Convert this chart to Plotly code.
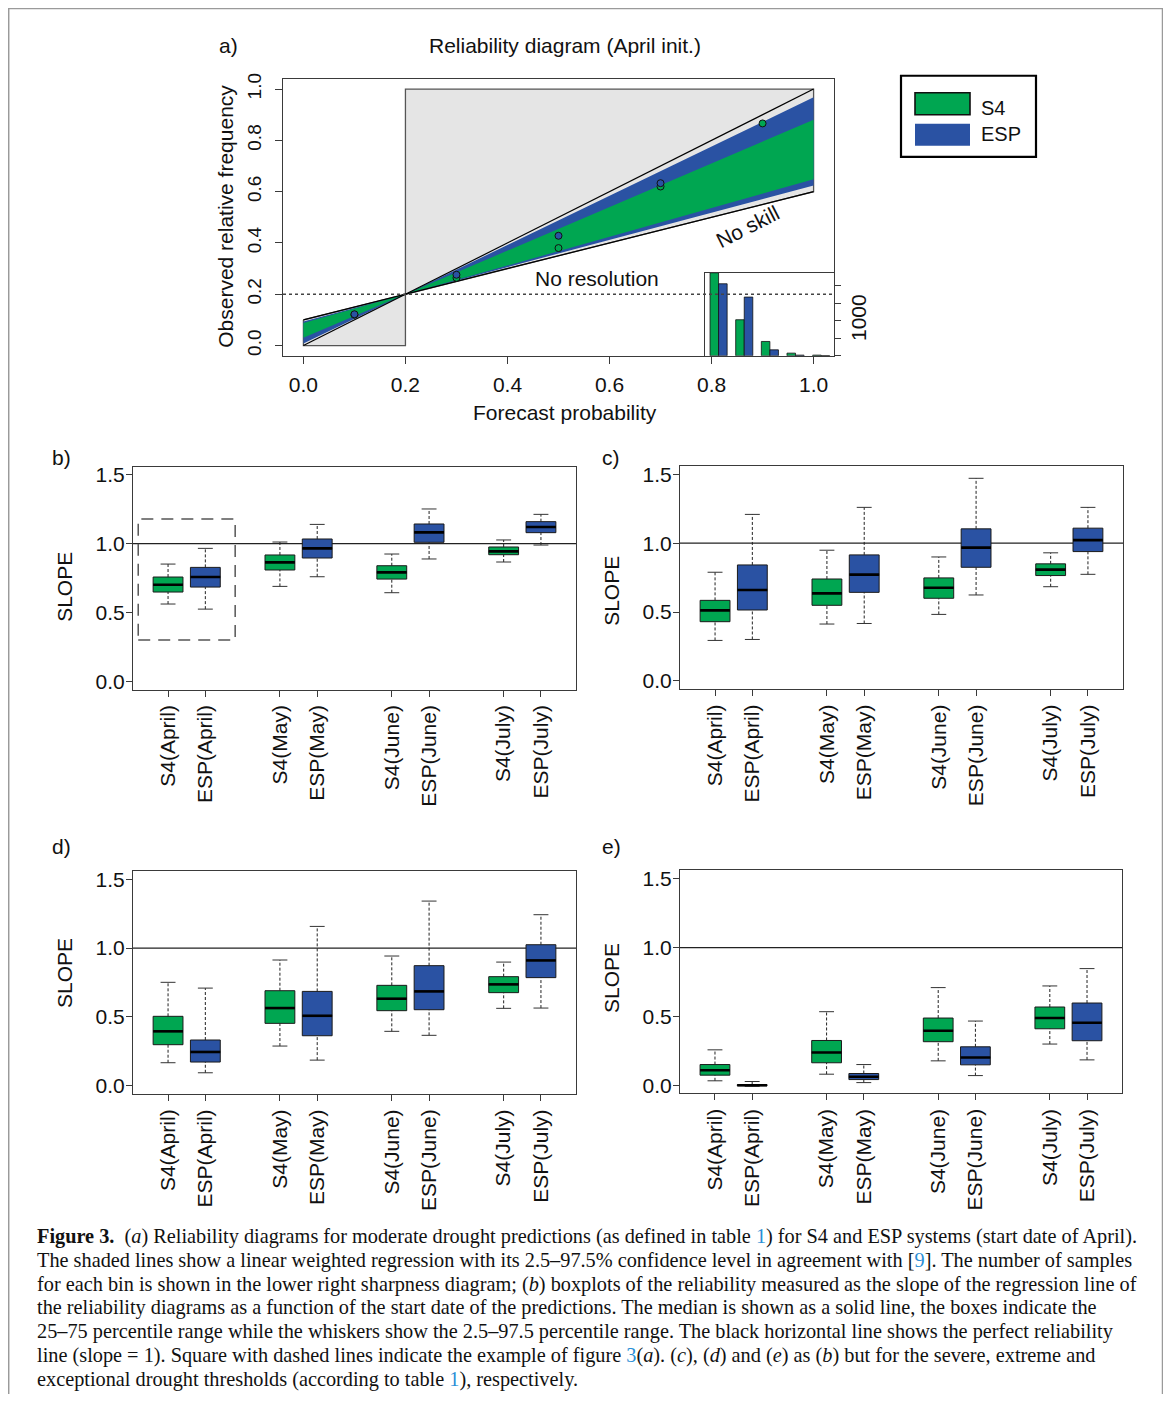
import plotly.graph_objects as go

# The page body has an 8px margin, so the figure starts at (8, 8) of the window.
OFF = 8
W, H = 1171 - 2 * OFF, 1402 - 2 * OFF
def px(x): return (x - OFF) / W
def py(y):
    yy = (y - 6.3) / 0.9933          # small empirical vertical correction
    return 1 - (yy - OFF) / H

GREEN = "#00a651"
BLUE = "#2a52a3"
FONT = "Liberation Sans"
AX = "#3a3a3a"

# ---------------- Panel a: reliability diagram ----------------
climatology = 0.2
bins = [0.1, 0.3, 0.5, 0.7, 0.9]
obs_s4 = [0.120, 0.264, 0.380, 0.620, 0.866]
obs_esp = [0.122, 0.276, 0.428, 0.633, None]
band_s4 = [0.56, 0.85]     # regression slope, 2.5% and 97.5%
band_esp = [0.53, 0.96]
count_s4 = [2370, 1030, 410, 77, 20]
count_esp = [2057, 1677, 171, 20, 5]
prob_ticks = [0.0, 0.2, 0.4, 0.6, 0.8, 1.0]
count_ticks = [0, 500, 1000, 1500, 2000]
count_ticktext = ["", "", "1000", "", ""]

# ---------------- Panels b-e: slope boxplots ----------------
months = ["April", "May", "June", "July"]
slope_ticks = [0.0, 0.5, 1.0, 1.5]
perfect_slope = 1.0
highlight_box = [0.2, 2.8, 0.3, 1.18]   # x0, x1, y0, y1 in panel b

b_s4_lo = [0.562, 0.690, 0.644, 0.867]
b_s4_q1 = [0.649, 0.809, 0.743, 0.920]
b_s4_md = [0.702, 0.864, 0.792, 0.944]
b_s4_q3 = [0.758, 0.918, 0.840, 0.976]
b_s4_hi = [0.852, 1.012, 0.925, 1.027]
b_esp_lo = [0.525, 0.760, 0.889, 0.990]
b_esp_q1 = [0.685, 0.896, 1.010, 1.080]
b_esp_md = [0.758, 0.966, 1.082, 1.121]
b_esp_q3 = [0.828, 1.034, 1.143, 1.160]
b_esp_hi = [0.966, 1.140, 1.252, 1.213]

c_s4_lo = [0.294, 0.413, 0.483, 0.684]
c_s4_q1 = [0.430, 0.549, 0.600, 0.765]
c_s4_md = [0.512, 0.636, 0.677, 0.808]
c_s4_q3 = [0.585, 0.740, 0.748, 0.850]
c_s4_hi = [0.789, 0.949, 0.900, 0.930]
c_esp_lo = [0.301, 0.417, 0.624, 0.774]
c_esp_q1 = [0.515, 0.643, 0.825, 0.939]
c_esp_md = [0.660, 0.772, 0.968, 1.022]
c_esp_q3 = [0.842, 0.915, 1.104, 1.109]
c_esp_hi = [1.209, 1.260, 1.471, 1.260]

d_s4_lo = [0.167, 0.288, 0.395, 0.562]
d_s4_q1 = [0.298, 0.453, 0.545, 0.676]
d_s4_md = [0.395, 0.564, 0.632, 0.736]
d_s4_q3 = [0.504, 0.690, 0.729, 0.792]
d_s4_hi = [0.751, 0.913, 0.942, 0.898]
d_esp_lo = [0.094, 0.186, 0.366, 0.564]
d_esp_q1 = [0.172, 0.363, 0.552, 0.785]
d_esp_md = [0.245, 0.508, 0.685, 0.910]
d_esp_q3 = [0.332, 0.685, 0.872, 1.024]
d_esp_hi = [0.709, 1.157, 1.341, 1.242]

e_s4_lo = [0.032, 0.080, 0.177, 0.299]
e_s4_q1 = [0.073, 0.163, 0.316, 0.410]
e_s4_md = [0.109, 0.238, 0.396, 0.488]
e_s4_q3 = [0.150, 0.325, 0.488, 0.568]
e_s4_hi = [0.257, 0.534, 0.709, 0.721]
e_esp_lo = [-0.008, 0.019, 0.070, 0.184]
e_esp_q1 = [-0.004, 0.041, 0.148, 0.323]
e_esp_md = [0.000, 0.061, 0.201, 0.454]
e_esp_q3 = [0.004, 0.085, 0.279, 0.597]
e_esp_hi = [0.027, 0.150, 0.466, 0.847]

fig = go.Figure()

# ---------- panel a traces ----------
def no_skill(x):
    return (x + climatology) / 2

def reg(s, x):
    return climatology + s * (x - climatology)

gray = "#e5e5e5"
edge = "#555555"
fig.add_trace(go.Scatter(
    x=[0, 0, climatology, climatology, 0],
    y=[no_skill(0), 0, 0, climatology, no_skill(0)],
    fill="toself", fillcolor=gray, mode="lines", line=dict(color=edge, width=1.3),
    hoverinfo="skip"))
fig.add_trace(go.Scatter(
    x=[climatology, climatology, 1, 1, climatology],
    y=[climatology, 1, 1, no_skill(1), climatology],
    fill="toself", fillcolor=gray, mode="lines", line=dict(color=edge, width=1.3),
    hoverinfo="skip"))

for band, col in [(band_esp, BLUE), (band_s4, GREEN)]:
    lo, hi = band
    fig.add_trace(go.Scatter(
        x=[0, 1, 1, 0, 0],
        y=[reg(hi, 0), reg(hi, 1), reg(lo, 1), reg(lo, 0), reg(hi, 0)],
        fill="toself", fillcolor=col, mode="lines", line=dict(width=0),
        hoverinfo="skip"))

fig.add_trace(go.Scatter(x=[0, 1], y=[0, 1], mode="lines",
                         line=dict(color="black", width=1.2), hoverinfo="skip"))
fig.add_trace(go.Scatter(x=[0, 1], y=[no_skill(0), no_skill(1)], mode="lines",
                         line=dict(color="black", width=1.2), hoverinfo="skip"))

fig.add_trace(go.Scatter(x=bins, y=obs_s4, mode="markers",
                         marker=dict(size=7, color=GREEN, line=dict(color="#111", width=1))))
fig.add_trace(go.Scatter(x=bins, y=obs_esp, mode="markers",
                         marker=dict(size=7, color=BLUE, line=dict(color="#111", width=1))))

# sharpness inset
fig.add_trace(go.Bar(x=bins, y=count_s4, marker=dict(color=GREEN, line=dict(color="#111", width=0.8)),
                     xaxis="x2", yaxis="y2"))
fig.add_trace(go.Bar(x=bins, y=count_esp, marker=dict(color=BLUE, line=dict(color="#111", width=0.8)),
                     xaxis="x2", yaxis="y2"))

# ---------- boxplot panels ----------
s4_pos = [3 * i + 1 for i in range(len(months))]
esp_pos = [3 * i + 2 for i in range(len(months))]
tick_pos, tick_txt = [], []
for i, m in enumerate(months):
    tick_pos += [s4_pos[i], esp_pos[i]]
    tick_txt += [f"S4({m})", f"ESP({m})"]

def add_boxes(xa, ya, pos, lo, q1, md, q3, hi, color):
    wx, wy, cx, cy, mx, my = [], [], [], [], [], []
    for p, a, b, m, c, d in zip(pos, lo, q1, md, q3, hi):
        wx += [p, p, None, p, p, None]
        wy += [c, d, None, a, b, None]
        cx += [p - 0.2, p + 0.2, None, p - 0.2, p + 0.2, None]
        cy += [d, d, None, a, a, None]
        mx += [p - 0.4, p + 0.4, None]
        my += [m, m, None]
    fig.add_trace(go.Scatter(x=wx, y=wy, mode="lines", xaxis=xa, yaxis=ya,
                             line=dict(color="#222", width=1, dash="3px,2px"), hoverinfo="skip"))
    fig.add_trace(go.Scatter(x=cx, y=cy, mode="lines", xaxis=xa, yaxis=ya,
                             line=dict(color="#333", width=1), hoverinfo="skip"))
    fig.add_trace(go.Box(x=pos, q1=q1, median=md, q3=q3, lowerfence=q1, upperfence=q3,
                         width=0.8, whiskerwidth=0, fillcolor=color, boxpoints=False,
                         line=dict(color="#1a1a1a", width=1), xaxis=xa, yaxis=ya))
    fig.add_trace(go.Scatter(x=mx, y=my, mode="lines", xaxis=xa, yaxis=ya,
                             line=dict(color="black", width=2.6), hoverinfo="skip"))

panels = [
    ("x3", "y3", (b_s4_lo, b_s4_q1, b_s4_md, b_s4_q3, b_s4_hi), (b_esp_lo, b_esp_q1, b_esp_md, b_esp_q3, b_esp_hi)),
    ("x4", "y4", (c_s4_lo, c_s4_q1, c_s4_md, c_s4_q3, c_s4_hi), (c_esp_lo, c_esp_q1, c_esp_md, c_esp_q3, c_esp_hi)),
    ("x5", "y5", (d_s4_lo, d_s4_q1, d_s4_md, d_s4_q3, d_s4_hi), (d_esp_lo, d_esp_q1, d_esp_md, d_esp_q3, d_esp_hi)),
    ("x6", "y6", (e_s4_lo, e_s4_q1, e_s4_md, e_s4_q3, e_s4_hi), (e_esp_lo, e_esp_q1, e_esp_md, e_esp_q3, e_esp_hi)),
]
for xa, ya, s4, esp in panels:
    add_boxes(xa, ya, s4_pos, *s4, GREEN)
    add_boxes(xa, ya, esp_pos, *esp, BLUE)

# ---------- layout ----------
base_ax = dict(showgrid=False, zeroline=False, showline=True, mirror=True, linecolor=AX,
               linewidth=1, ticks="outside", tickcolor=AX, ticklen=7, tickwidth=1,
               tickfont=dict(family=FONT, size=21, color="#111"))

layout = dict(
    width=W, height=H, autosize=False, margin=dict(l=0, r=0, t=0, b=0),
    paper_bgcolor="white", plot_bgcolor="white", showlegend=False,
    barmode="group", bargap=1/3, bargroupgap=0, boxmode="overlay",
    font=dict(family=FONT, color="#111"),
)
layout["xaxis"] = dict(base_ax, domain=[px(283), px(834)], range=[-0.04, 1.04],
                       tickvals=prob_ticks, ticktext=[f"{v:.1f}" for v in prob_ticks],
                       anchor="y", ticklabelstandoff=3)
layout["yaxis"] = dict(base_ax, domain=[py(356), py(79)], range=[-0.04, 1.04],
                       tickvals=prob_ticks, ticktext=[f"{v:.1f}" for v in prob_ticks],
                       tickfont=dict(family=FONT, size=19, color="#111"),
                       tickangle=-90, anchor="x", ticklabelstandoff=6)
layout["xaxis2"] = dict(showgrid=False, zeroline=False, showline=True, mirror=True, linecolor=AX,
                        domain=[px(705), px(834)], range=[-0.006, 1.0], showticklabels=False,
                        ticks="", anchor="y2")
layout["yaxis2"] = dict(base_ax, domain=[py(356), py(273)], range=[0, 2370], side="right",
                        tickvals=count_ticks, ticktext=count_ticktext, tickangle=-90,
                        ticklen=6, anchor="x2")

box_dom = {
    "3": ([133, 576], [466.7, 689.8]),
    "4": ([680, 1123], [466.2, 689.3]),
    "5": ([133, 576], [871, 1094]),
    "6": ([680, 1122], [870.5, 1093.5]),
}
for k, (xd, yd) in box_dom.items():
    layout["xaxis" + k] = dict(base_ax, domain=[px(xd[0]), px(xd[1])], range=[0.06, 11.94],
                               tickvals=tick_pos, ticktext=tick_txt, tickangle=-90,
                               ticklen=6, anchor="y" + k)
    layout["yaxis" + k] = dict(base_ax, domain=[py(yd[1]), py(yd[0])], range=[-0.06, 1.56],
                               tickvals=slope_ticks, ticktext=[f"{v:.1f}" for v in slope_ticks],
                               ticklen=6, anchor="x" + k, ticklabelstandoff=-3)
fig.update_layout(**layout)

shapes = []
shapes.append(dict(type="line", xref="x domain", yref="y", x0=0, x1=1, y0=climatology, y1=climatology,
                   line=dict(color="#444", width=1.4, dash="dot")))
for k in ["3", "4", "5", "6"]:
    shapes.append(dict(type="line", xref=f"x{k} domain", yref=f"y{k}", x0=0, x1=1,
                       y0=perfect_slope, y1=perfect_slope, line=dict(color="#222", width=1.2),
                       layer="below"))
shapes.append(dict(type="rect", xref="x3", yref="y3", x0=highlight_box[0], x1=highlight_box[1],
                   y0=highlight_box[2], y1=highlight_box[3],
                   line=dict(color="#555", width=1.5, dash="12px,8px")))
shapes.append(dict(type="rect", xref="paper", yref="paper", x0=px(901), x1=px(1036), y0=py(157), y1=py(76),
                   line=dict(color="black", width=2.2), fillcolor="white"))
shapes.append(dict(type="rect", xref="paper", yref="paper", x0=px(915), x1=px(970), y0=py(115), y1=py(93),
                   line=dict(color="#111", width=1.6), fillcolor=GREEN))
shapes.append(dict(type="rect", xref="paper", yref="paper", x0=px(915), x1=px(970), y0=py(146), y1=py(124),
                   line=dict(width=0), fillcolor=BLUE))
shapes.append(dict(type="rect", xref="paper", yref="paper", x0=px(8.7), x1=px(1162.5), y0=py(1412), y1=py(8.7),
                   line=dict(color="#9a9a9a", width=1.5)))
fig.update_layout(shapes=shapes)

ann = []
def T(text, x, y, size=21, angle=0, xanchor="center", family=FONT, xref="paper", yref="paper"):
    d = dict(text=text, x=x, y=y, xref=xref, yref=yref, showarrow=False, textangle=angle,
             xanchor=xanchor, yanchor="middle", font=dict(family=family, size=size, color="#111"))
    if xref == "paper":
        d["x"] = px(x)
    if yref == "paper":
        d["y"] = py(y)
    ann.append(d)

T("a)", 228, 46)
T("Reliability diagram (April init.)", 565, 46)
T("Observed relative frequency", 226, 217, angle=-90)
T("Forecast probability", 565, 413)
T("No resolution", 0.575, 0.263, xref="x", yref="y")
T("No skill", 0.871, 0.463, angle=-27, xref="x", yref="y")
T("S4", 979, 108, size=20, xanchor="left")
T("ESP", 979, 134, size=20, xanchor="left")
T("b)", 61, 458)
T("c)", 611, 458)
T("d)", 61, 847)
T("e)", 611, 847)
T("SLOPE", 65, 587, angle=-90)
T("SLOPE", 612, 591, angle=-90)
T("SLOPE", 65, 973, angle=-90)
T("SLOPE", 612, 978, angle=-90)

REF = "<span style='color:#2b8fd6'>%s</span>"
caption = [
    "<b>Figure 3.</b>  (<i>a</i>) Reliability diagrams for moderate drought predictions (as defined in table " + REF % "1" + ") for S4 and ESP systems (start date of April).",
    "The shaded lines show a linear weighted regression with its 2.5–97.5% confidence level in agreement with [" + REF % "9" + "]. The number of samples",
    "for each bin is shown in the lower right sharpness diagram; (<i>b</i>) boxplots of the reliability measured as the slope of the regression line of",
    "the reliability diagrams as a function of the start date of the predictions. The median is shown as a solid line, the boxes indicate the",
    "25–75 percentile range while the whiskers show the 2.5–97.5 percentile range. The black horizontal line shows the perfect reliability",
    "line (slope = 1). Square with dashed lines indicate the example of figure " + REF % "3" + "(<i>a</i>). (<i>c</i>), (<i>d</i>) and (<i>e</i>) as (<i>b</i>) but for the severe, extreme and",
    "exceptional drought thresholds (according to table " + REF % "1" + "), respectively.",
]
cap_y = [1236, 1260, 1284, 1307, 1331, 1355, 1379]
for line, y in zip(caption, cap_y):
    T(line, 35, y, size=20.3, xanchor="left", family="Liberation Serif")

fig.update_layout(annotations=ann)
fig.write_html("out.html")
